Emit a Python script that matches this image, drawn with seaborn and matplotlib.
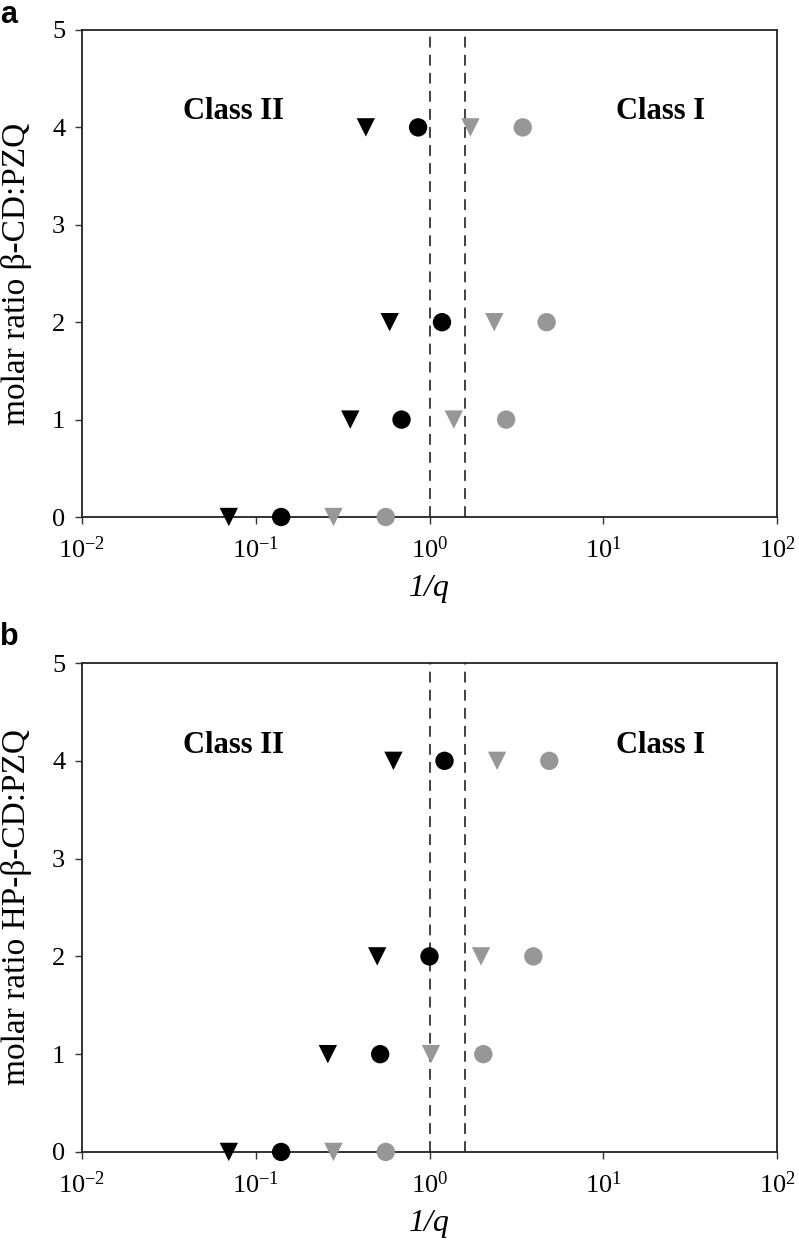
import numpy as np
import pandas as pd
import matplotlib
matplotlib.use("Agg")
import matplotlib.pyplot as plt
import seaborn as sns

# --- data ---
ratio = [0, 1, 2, 4]

# panel a: beta-CD
a_black_tri = [0.070, 0.35, 0.59, 0.43]
a_black_circ = [0.14, 0.69, 1.18, 0.86]
a_grey_tri = [0.28, 1.38, 2.36, 1.72]
a_grey_circ = [0.56, 2.76, 4.72, 3.44]

# panel b: HP-beta-CD
b_black_tri = [0.070, 0.26, 0.50, 0.62]
b_black_circ = [0.14, 0.52, 1.00, 1.22]
b_grey_tri = [0.28, 1.02, 1.98, 2.45]
b_grey_circ = [0.56, 2.04, 3.96, 4.89]

class_limits = [1.0, 1.6]
x_ticks = [1e-2, 1e-1, 1e0, 1e1, 1e2]
x_tick_labels = ["$10^{-2}$", "$10^{-1}$", "$10^{0}$", "$10^{1}$", "$10^{2}$"]
y_ticks = [0, 1, 2, 3, 4, 5]

series_names = ["black_tri", "black_circ", "grey_tri", "grey_circ"]
palette = {"black_tri": "#000000", "black_circ": "#000000",
           "grey_tri": "#979797", "grey_circ": "#979797"}
markers = {"black_tri": "v", "black_circ": "o", "grey_tri": "v", "grey_circ": "o"}

sns.set_style("ticks")
plt.rcParams["font.family"] = ["Liberation Serif", "DejaVu Serif"]
plt.rcParams["mathtext.fontset"] = "custom"
plt.rcParams["mathtext.rm"] = "Liberation Serif"
plt.rcParams["mathtext.it"] = "Liberation Serif:italic"
plt.rcParams["mathtext.bf"] = "Liberation Serif:bold"
for key in ["text.color", "axes.labelcolor", "xtick.color", "ytick.color"]:
    plt.rcParams[key] = "black"


def make_df(series):
    rows = []
    for name, vals in zip(series_names, series):
        for x, y in zip(vals, ratio):
            rows.append({"q_inv": x, "ratio": y, "series": name})
    return pd.DataFrame(rows)


df_a = make_df([a_black_tri, a_black_circ, a_grey_tri, a_grey_circ])
df_b = make_df([b_black_tri, b_black_circ, b_grey_tri, b_grey_circ])

fig = plt.figure(figsize=(7.99, 12.44), dpi=100)
ax_a = fig.add_axes([0.1026, 0.5844, 0.8699, 0.3915])
ax_b = fig.add_axes([0.1026, 0.0740, 0.8699, 0.3930])

panels = [
    (ax_a, df_a, "molar ratio \u03b2-CD:PZQ", "a", 0.988),
    (ax_b, df_b, "molar ratio HP-\u03b2-CD:PZQ", "b", 0.488),
]

for ax, df, ylab, letter, ly in panels:
    for xv in class_limits:
        ax.axvline(xv, color="#333333", lw=1.3, ls=(0, (6, 4)), zorder=1)
    sns.scatterplot(data=df, x="q_inv", y="ratio", hue="series", style="series",
                    palette=palette, markers=markers, s=175, linewidth=0,
                    legend=False, ax=ax, zorder=3, clip_on=False)
    ax.set_xscale("log")
    ax.set_xlim(1e-2, 1e2)
    ax.set_ylim(0, 5)
    ax.set_xticks(x_ticks)
    ax.set_xticklabels(x_tick_labels)
    ax.minorticks_off()
    ax.set_yticks(y_ticks)
    ax.tick_params(labelsize=19, length=5, width=1, color="#333333", direction="out")
    ax.tick_params(axis="x", pad=9)
    ax.tick_params(axis="y", pad=7)
    for sp in ax.spines.values():
        sp.set_color("#222222")
        sp.set_linewidth(1.3)
    ax.set_xlabel("1/q", fontsize=23, style="italic", labelpad=8)
    ax.set_ylabel(ylab, fontsize=24)
    ax.yaxis.set_label_coords(-0.072, 0.5)
    ax.text(0.074, 4.16, "Class II", fontsize=22, fontweight="bold",
            ha="center", va="center")
    ax.text(21.5, 4.16, "Class I", fontsize=22, fontweight="bold",
            ha="center", va="center")
    fig.text(0.0, ly, letter, fontsize=22, fontweight="bold",
             family=["Liberation Sans", "DejaVu Sans"], ha="left", va="center")

fig.savefig("out.png", dpi=100)
